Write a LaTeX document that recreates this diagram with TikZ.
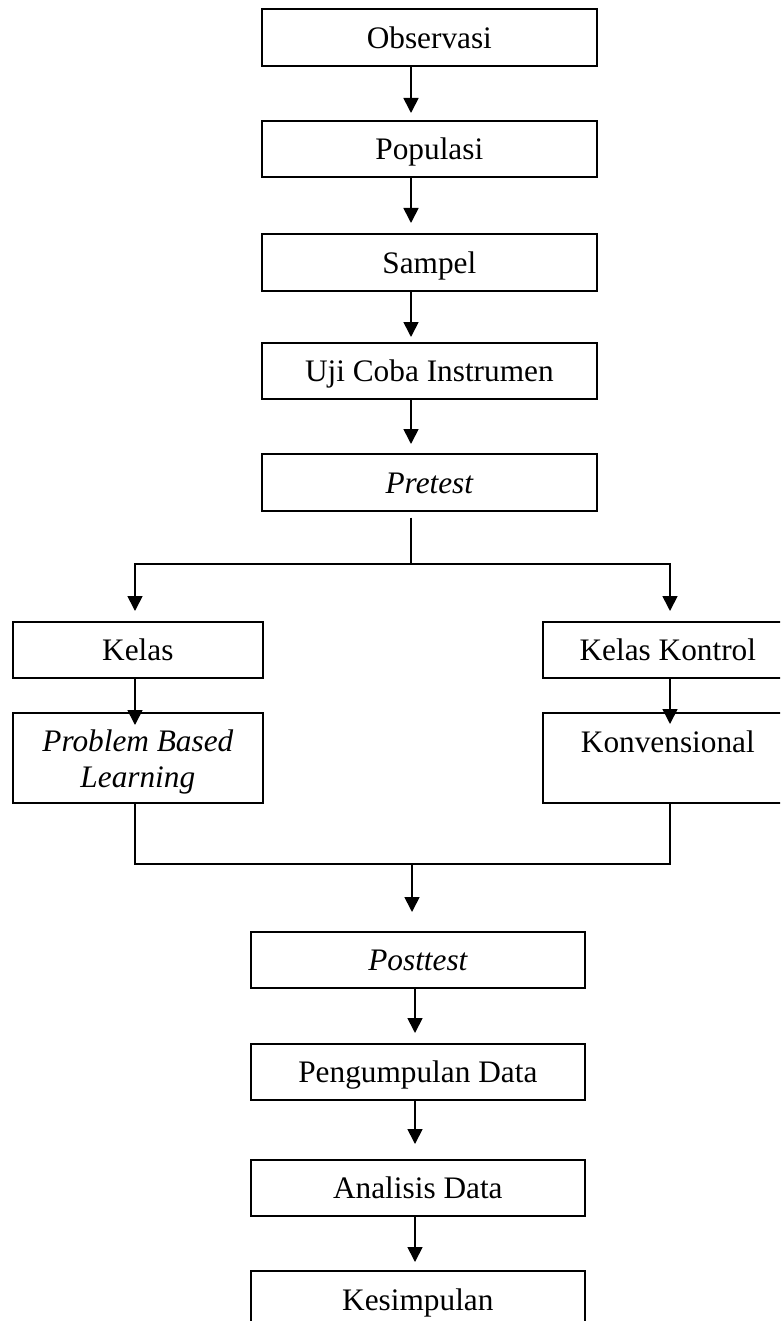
\documentclass[tikz,border=0pt]{standalone}
\usepackage{fontspec}
\setmainfont{Liberation Serif}
\usetikzlibrary{arrows.meta,calc}
\begin{document}
\begin{tikzpicture}[x=1pt,y=-1pt,
  box/.style={draw, line width=1.7pt, inner sep=0pt, anchor=north west,
    font=\fontsize{31.3}{36}\selectfont, text height=28pt, text depth=6.5pt, align=center},
  tall/.style={text height=25pt, text depth=35pt},
  twoline/.style={text height=62pt, text depth=2pt},
  arr/.style={line width=1.7pt, -{Triangle[width=15pt,length=15pt]}},
  ln/.style={line width=1.7pt}]
\clip (0,0) rectangle (780,1321);
\fill[white] (0,0) rectangle (780,1321);
% upper chain
\node[box, minimum width=335pt, minimum height=57pt] (obs) at (261,8) {Observasi};
\node[box, minimum width=335pt, minimum height=56pt] (pop) at (261,120) {Populasi};
\node[box, minimum width=335pt, minimum height=57pt] (sam) at (261,233) {Sampel};
\node[box, minimum width=335pt, minimum height=56pt] (uji) at (261,342) {Uji Coba Instrumen};
\node[box, minimum width=335pt, minimum height=57pt] (pre) at (261,453) {\itshape Pretest};
% branches
\node[box, minimum width=250pt, minimum height=56pt] (kel) at (12,621) {Kelas};
\node[box, twoline, minimum width=250pt, minimum height=90pt] (pbl) at (12,712) {\itshape Problem Based\\\itshape Learning};
\node[box, minimum width=250pt, minimum height=56pt] (kk) at (542,621) {Kelas Kontrol};
\node[box, tall, minimum width=250pt, minimum height=90pt] (konv) at (542,712) {Konvensional};
% lower chain
\node[box, minimum width=334pt, minimum height=56pt] (post) at (250,931) {\itshape Posttest};
\node[box, minimum width=334pt, minimum height=56pt] (peng) at (250,1043) {Pengumpulan Data};
\node[box, minimum width=334pt, minimum height=56pt] (ana) at (250,1159) {Analisis Data};
\node[box, minimum width=334pt, minimum height=57pt] (kes) at (250,1270) {Kesimpulan};
% helper coordinates
\coordinate (ax) at (411,0);
\coordinate (bx) at (415,0);
\coordinate (split) at (411,564);
\coordinate (lft) at (135,564);
\coordinate (rgt) at (670,564);
\coordinate (mrg) at (412,864);
% connectors
\draw[arr, shorten >=7pt] (obs.south -| ax) -- (pop.north -| ax);
\draw[arr, shorten >=10pt] (pop.south -| ax) -- (sam.north -| ax);
\draw[arr, shorten >=5pt] (sam.south -| ax) -- (uji.north -| ax);
\draw[arr, shorten >=9pt] (uji.south -| ax) -- (pre.north -| ax);
\draw[ln] ($(pre.south -| ax)+(0,6)$) -- (split);
\draw[arr, shorten >=10pt] (split) -| (kel.north -| lft);
\draw[arr, shorten >=10pt] (split) -| (kk.north -| rgt);
\draw[arr, shorten >=-13pt] (kel.south -| lft) -- (pbl.north -| lft);
\draw[arr, shorten >=-12pt] (kk.south -| rgt) -- (konv.north -| rgt);
\draw[ln] (pbl.south -| lft) |- (mrg) -| (konv.south -| rgt);
\draw[arr, shorten >=19pt] (mrg) -- (post.north -| mrg);
\draw[arr, shorten >=10pt] (post.south -| bx) -- (peng.north -| bx);
\draw[arr, shorten >=15pt] (peng.south -| bx) -- (ana.north -| bx);
\draw[arr, shorten >=8pt] (ana.south -| bx) -- (kes.north -| bx);
\end{tikzpicture}
\end{document}
